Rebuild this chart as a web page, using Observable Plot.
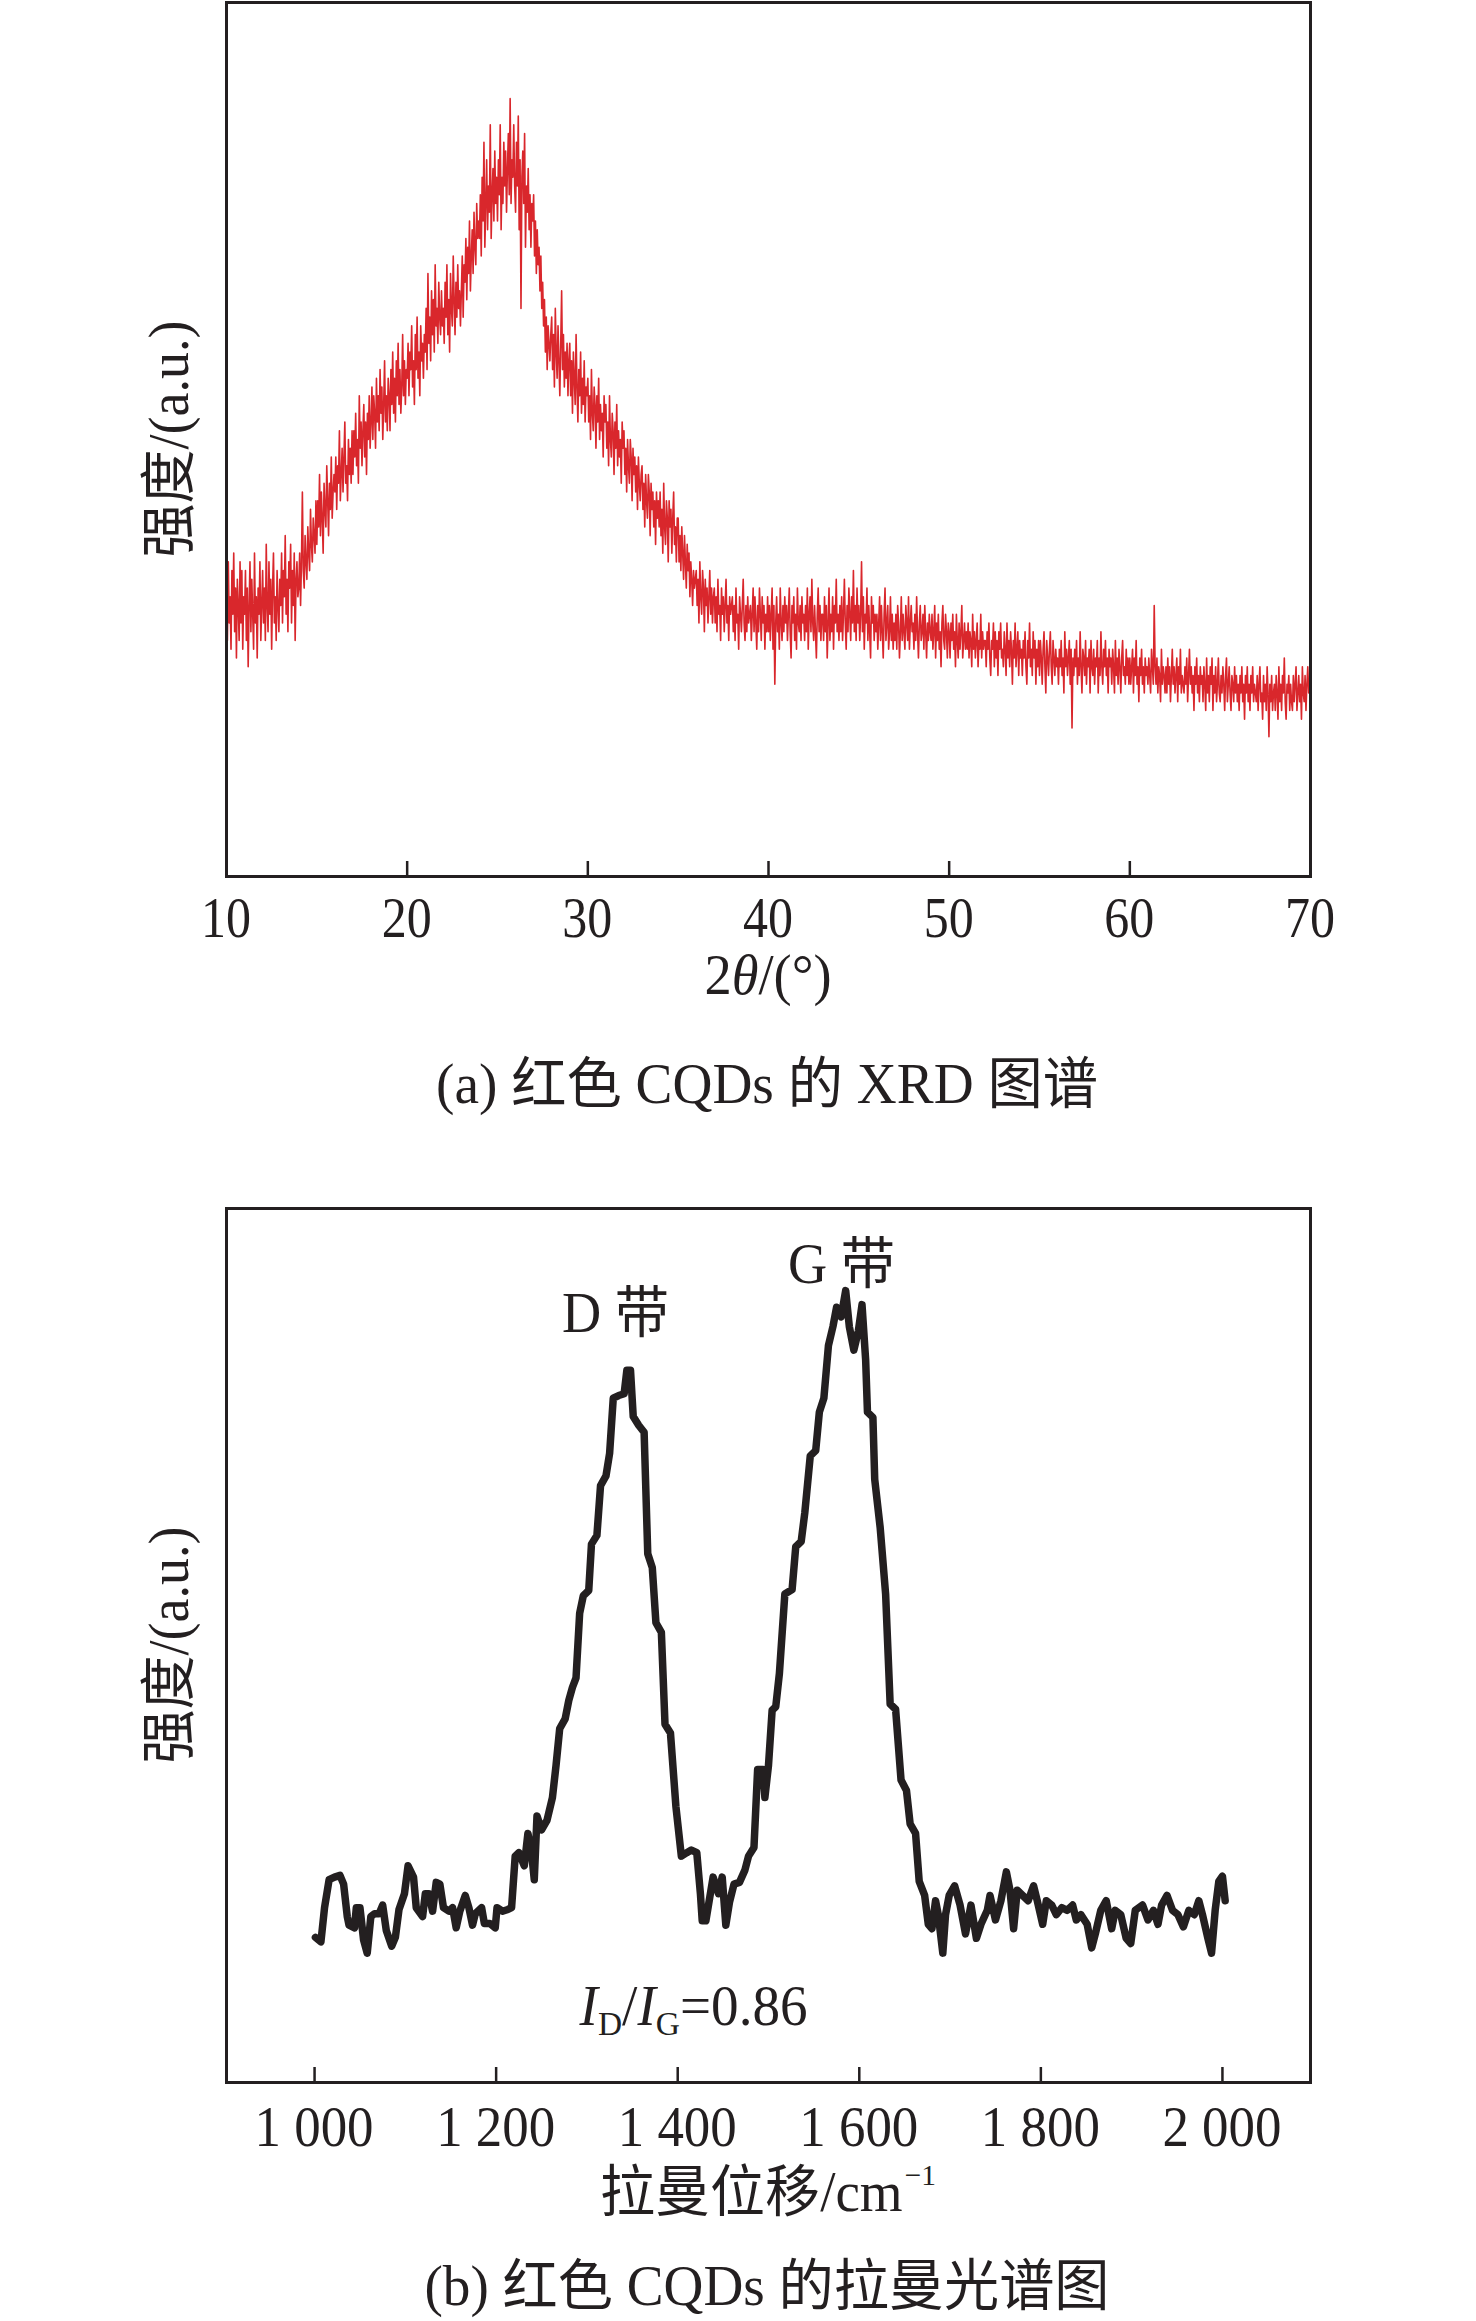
<!DOCTYPE html>
<html><head><meta charset="utf-8">
<script src="https://cdn.jsdelivr.net/npm/d3@7"></script>
<script src="https://cdn.jsdelivr.net/npm/@observablehq/plot@0.6"></script>
<style>
body{margin:0;background:#fff;}
#root{width:1476px;}
svg{display:block;}
</style></head><body><div id="root"></div>
<script>
// ---------- Data (a) XRD, 2θ from 10° to 70° in 0.05° steps ----------
const xrdStart = 10;
const xrdStep = 0.05;
const xrdIntensity = [
34,27,36,29,32,26,35,30,37,28,33,25,34,31,27,36,29,35,26,32,
30,35,27,33,24,31,36,28,34,30,26,37,29,32,25,33,30,36,27,31,
35,29,33,27,38,31,28,36,30,34,26,33,37,29,32,27,35,31,28,34,
31,37,29,35,32,39,30,34,28,36,33,38,29,35,31,37,27,34,36,32,
33,37,31,36,44,35,33,39,36,34,40,37,35,42,38,36,41,39,37,43,
38,43,40,46,39,44,41,37,45,42,40,47,43,39,45,42,48,41,44,46,
44,48,42,47,45,51,43,46,49,44,48,52,45,47,43,50,46,49,45,51,
46,51,48,53,47,50,45,55,49,52,47,51,54,48,52,46,53,50,55,49,
52,56,50,55,53,49,57,52,55,51,58,53,56,50,54,59,52,55,51,57,
55,51,58,54,60,53,57,52,59,55,61,54,58,53,56,62,55,59,54,58,
57,61,55,60,58,63,56,59,54,62,58,64,57,60,55,63,59,61,57,62,
60,65,58,69,61,64,59,67,62,66,60,70,63,65,61,68,64,62,67,63,
65,61,68,64,70,62,66,60,69,65,63,71,66,62,68,64,70,65,67,63,
67,71,64,70,68,73,66,72,69,75,67,71,74,69,76,72,70,77,73,75,
73,78,71,80,75,84,72,77,82,74,79,76,86,73,78,81,75,83,77,80,
75,82,78,86,74,80,77,84,79,83,76,81,85,78,89,77,82,80,86,79,
76,84,79,87,74,82,65,80,83,77,85,72,79,76,81,74,78,72,77,75,
78,71,75,69,74,70,72,67,71,65,68,63,66,60,64,58,63,61,59,62,
64,58,62,56,65,60,57,63,59,55,61,67,58,62,56,60,57,61,55,59,
61,55,59,53,60,57,54,62,56,52,58,55,60,53,57,54,59,52,56,55,
57,52,55,50,58,53,51,56,54,49,55,52,57,50,54,51,53,48,55,52,
54,49,52,47,55,50,48,53,51,46,52,49,54,47,51,48,50,45,52,49,
51,46,49,44,50,47,45,50,48,43,49,46,48,44,47,42,48,45,43,46,
47,42,45,40,46,43,41,46,44,39,45,42,44,40,43,38,44,41,43,40,
44,39,42,37,45,40,38,43,41,36,43,40,42,37,41,44,38,40,36,41,
41,36,39,35,40,37,34,39,36,33,38,35,37,32,36,34,31,35,33,34,
35,31,34,29,36,32,30,35,33,28,34,31,33,29,32,35,30,33,29,32,
33,29,32,28,34,30,31,27,33,30,32,28,31,34,29,31,27,32,30,31,
32,28,31,27,33,29,30,26,32,30,28,31,34,29,27,31,28,32,29,30,
31,27,30,33,28,32,29,26,31,28,33,30,27,32,29,31,26,30,28,32,
28,31,27,30,33,26,31,22,29,32,28,30,26,33,29,27,31,28,32,29,
31,27,30,33,28,25,31,29,32,27,30,26,33,29,28,31,27,32,29,30,
27,31,28,33,26,30,32,28,34,29,27,31,28,25,30,33,28,31,27,30,
30,27,32,28,31,25,29,33,27,30,28,32,26,31,29,34,28,30,27,31,
28,32,27,30,34,29,26,31,28,33,30,27,32,29,35,28,31,27,33,29,
31,27,30,36,28,32,26,30,29,33,27,31,28,25,32,29,31,27,30,28,
30,26,29,32,27,31,28,25,30,33,27,29,31,26,28,32,27,30,26,29,
27,30,26,31,29,25,28,32,27,30,28,26,31,29,27,32,26,29,31,28,
29,26,30,27,32,28,25,29,31,27,28,30,26,31,28,25,29,27,30,28,
27,30,26,28,31,25,29,27,30,26,28,24,29,31,27,26,30,28,25,29,
28,25,29,27,30,26,28,24,30,27,25,29,26,28,31,25,27,29,26,28,
26,29,25,28,27,24,30,26,28,25,27,29,24,27,26,30,25,28,26,27,
27,24,28,26,29,25,23,27,26,29,24,28,25,27,23,28,26,29,25,26,
24,28,26,23,29,25,27,24,28,26,22,27,25,29,24,26,28,23,27,25,
26,23,27,25,28,24,22,27,25,29,24,26,23,28,25,27,22,26,24,27,
23,27,25,22,26,28,24,21,27,25,23,26,28,24,22,27,25,23,26,24,
25,22,26,24,27,23,25,21,28,24,26,23,25,27,22,26,17,25,23,26,
24,27,22,25,23,28,24,21,26,25,23,27,22,25,24,26,21,27,24,23,
26,22,25,24,27,21,25,23,28,24,22,26,24,27,23,25,21,26,24,25,
22,26,24,21,27,23,25,22,26,24,21,25,27,23,24,22,26,23,25,22,
25,22,24,26,21,25,23,27,22,24,20,25,23,26,22,24,21,25,23,24,
22,25,23,21,26,24,22,31,24,22,25,21,24,23,20,26,22,24,23,21,
24,21,25,22,24,20,23,26,22,24,21,23,25,20,24,22,26,21,23,22,
21,24,22,25,20,23,26,22,24,21,23,19,24,22,25,21,23,20,24,22,
23,20,24,22,19,25,21,23,20,24,22,25,19,23,21,24,20,22,25,21,
20,23,21,24,22,19,23,25,20,22,24,21,19,23,22,20,24,21,23,20,
22,19,23,21,24,20,22,18,23,21,24,20,22,19,23,21,24,20,22,21,
20,23,19,22,24,20,21,18,23,20,22,19,24,21,16,22,20,23,19,21,
22,19,23,21,18,24,20,22,19,23,21,25,20,18,22,21,23,19,22,20,
19,23,20,22,24,19,21,23,20,22,18,24,21,20,23,19,22,24,21,22,
24
];
const xrdTicks = [10, 20, 30, 40, 50, 60, 70];

// ---------- Data (b) Raman ----------
const ramanShift = [
1001,1007,1011,1016,1022,1028,1032,1036,1038,1044,1046,1050,1054,1058,1062,1066,1071,1075,1079,1085,
1089,1093,1099,1103,1109,1112,1119,1122,1126,1130,1134,1138,1142,1148,1152,1156,1160,1166,1170,1174,
1177,1184,1187,1193,1199,1201,1207,1213,1217,1221,1225,1231,1235,1239,1242,1245,1250,1256,1262,1266,
1270,1276,1280,1284,1288,1292,1296,1302,1305,1311,1315,1321,1325,1329,1335,1341,1344,1348,1351,1357,
1363,1367,1372,1376,1382,1386,1392,1398,1404,1410,1415,1421,1425,1427,1431,1439,1445,1449,1453,1457,
1462,1468,1474,1478,1484,1488,1494,1496,1500,1504,1508,1512,1518,1526,1530,1536,1540,1546,1552,1556,
1561,1566,1571,1575,1580,1585,1589,1594,1599,1603,1607,1609,1615,1617,1623,1629,1634,1640,1646,1652,
1656,1662,1666,1672,1676,1680,1684,1687,1692,1695,1699,1705,1711,1717,1723,1729,1734,1741,1744,1750,
1756,1762,1766,1770,1774,1780,1786,1792,1796,1802,1806,1812,1817,1823,1829,1835,1839,1844,1851,1856,
1860,1866,1872,1878,1882,1888,1894,1899,1904,1912,1918,1924,1929,1933,1939,1945,1951,1957,1963,1969,
1974,1978,1984,1988,1992,1996,2000,2003
];
const ramanIntensity = [
16.6,16.1,20,23.2,23.5,23.7,22.7,19,18,17.7,20,20,16.3,14.8,19,19.3,19.3,20.3,17.4,15.6,
16.6,19.8,21.6,24.8,23.5,20,19,21.6,21.6,19.6,22.9,22.7,20,19.6,20,17.7,19.6,21.4,20,18,
19.3,20,18.2,18.2,17.7,20,19.6,19.8,20,25.9,26.3,24.8,28.5,26.3,23.2,30.5,28.9,30,32.6,36.3,
40.5,41.6,43.7,45.2,46.3,53.7,55.7,56.3,61.6,62.6,68.3,69.4,72,78.3,78.6,78.8,81.5,81.5,76.2,75.2,
74.4,60.5,58.9,52.6,51.5,41,40,31.6,25.9,26.3,26.6,26.3,21.6,18.5,18.5,23.5,21.6,23.5,18,20.6,
22.7,22.9,24.3,25.9,26.9,35.8,35.8,32.6,36.3,42.6,43,46.8,55.9,56.4,61.3,61.9,65.2,71.7,72.3,76.7,
78.3,84.3,86.5,88.7,87.6,90.6,86.5,83.8,86,89,82.7,76.7,76.1,69,63.5,55.9,43.3,42.7,34.6,33.4,
29.6,28.5,23,21.4,18.1,17.6,20.8,19.2,14.8,19.2,21.4,22.5,20.3,17,20.3,16.5,18.1,19.7,21.4,18.6,
20.8,24.1,22,17.6,22,21.4,20.8,22.5,20.8,18.1,20.8,20.3,19.2,20,19.7,20.3,18.6,19.2,18.1,15.4,
17,19.7,20.8,17.6,19.7,19.2,16.5,15.9,19.7,20.3,18.6,19.7,18.1,20.3,21.4,19.7,19.2,17.8,19.7,19.2,
20.8,19.2,16.5,14.8,19.7,23,23.6,20.8
];
const ramanTicks = [1000, 1200, 1400, 1600, 1800, 2000];
const ramanTickLabels = ["1 000", "1 200", "1 400", "1 600", "1 800", "2 000"];

// ---------- Text ----------
const yLabel = "强度/(a.u.)";
const captionA = "(a) 红色 CQDs 的 XRD 图谱";
const captionB = "(b) 红色 CQDs 的拉曼光谱图";
const xLabelB = "拉曼位移/cm";
const bandLabels = [{shift: 1332, value: 88.2, text: "D 带"}, {shift: 1581, value: 93.8, text: "G 带"}];

// ---------- Rendering ----------
const FONT = '"Liberation Serif","Times New Roman","Noto Sans CJK SC",serif';
const INK = "#231f20";
const RED = "#d9272c";
const W = 1476;

const xrdData = xrdIntensity.map((v, i) => ({a: +(xrdStart + i * xrdStep).toFixed(2), v}));
const ramanData = ramanShift.map((s, i) => ({s, v: ramanIntensity[i]}));

function addText(svg, {x, y, rotate, size = 56, width, parts}) {
  const t = d3.select(svg).append("text")
    .attr("transform", `translate(${x},${y})` + (rotate ? ` rotate(${rotate})` : ""))
    .attr("text-anchor", "middle")
    .attr("font-family", FONT)
    .attr("font-size", size)
    .attr("fill", INK);
  for (const p of parts) {
    const s = t.append("tspan").text(p.t);
    if (p.italic) s.attr("font-style", "italic");
    if (p.size) s.attr("font-size", p.size);
    if (p.dy) s.attr("dy", p.dy);
    if (p.dx) s.attr("dx", p.dx);
  }
  if (width) t.attr("textLength", width).attr("lengthAdjust", "spacingAndGlyphs");
  return t;
}

// Panel (a)
const A = {h: 1160, top: 2, bottom: 284, left: 226, right: 166};
const plotA = Plot.plot({
  width: W, height: A.h,
  marginTop: A.top, marginBottom: A.bottom, marginLeft: A.left, marginRight: A.right,
  x: {domain: [10, 70], axis: null},
  y: {domain: [0, 100], axis: null},
  marks: [
    Plot.line(xrdData, {x: "a", y: "v", stroke: RED, strokeWidth: 1.6}),
    Plot.tickX(xrdTicks.slice(1, -1), {x: d => d, insetTop: A.h - A.top - A.bottom - 15, stroke: INK, strokeWidth: 2.5}),
    Plot.frame({stroke: INK, strokeWidth: 3})
  ]
});

// Panel (b)
const B = {h: 1161, top: 48, bottom: 239, left: 226, right: 166};
const plotB = Plot.plot({
  width: W, height: B.h,
  marginTop: B.top, marginBottom: B.bottom, marginLeft: B.left, marginRight: B.right,
  x: {domain: [903, 2097], axis: null},
  y: {domain: [0, 100], axis: null},
  marks: [
    Plot.line(ramanData, {x: "s", y: "v", stroke: INK, strokeWidth: 7.5, strokeLinejoin: "round", strokeLinecap: "round"}),
    Plot.tickX(ramanTicks, {x: d => d, insetTop: B.h - B.top - B.bottom - 15, stroke: INK, strokeWidth: 2.5}),
    Plot.frame({stroke: INK, strokeWidth: 3})
  ]
});

const root = document.getElementById("root");
root.append(plotA, plotB);

// Texts panel (a)
{
  const sx = plotA.scale("x");
  const cx = A.left + (W - A.left - A.right) / 2;
  const bottom = A.h - A.bottom;
  for (const t of xrdTicks) addText(plotA, {x: sx.apply(t), y: bottom + 61, width: 50, parts: [{t: String(t)}]});
  addText(plotA, {x: cx, y: 994, width: 127, parts: [{t: "2"}, {t: "θ", italic: true}, {t: "/(°)"}]});
  addText(plotA, {x: cx - 1, y: 1103, width: 662, parts: [{t: captionA}]});
  addText(plotA, {x: 188, y: A.top + (A.h - A.top - A.bottom) / 2, rotate: -90, width: 237, parts: [{t: yLabel}]});
}
// Texts panel (b)
{
  const sx = plotB.scale("x");
  const sy = plotB.scale("y");
  const cx = B.left + (W - B.left - B.right) / 2;
  const bottom = B.h - B.bottom;
  ramanTicks.forEach((t, i) => addText(plotB, {x: sx.apply(t), y: bottom + 64, width: 119, parts: [{t: ramanTickLabels[i]}]}));
  addText(plotB, {x: cx, y: 1051, width: 336, parts: [{t: xLabelB}, {t: "−1", size: 30, dy: -26, dx: 2}]});
  addText(plotB, {x: cx - 1, y: 1145, width: 685, parts: [{t: captionB}]});
  addText(plotB, {x: 188, y: B.top + (B.h - B.top - B.bottom) / 2, rotate: -90, width: 237, parts: [{t: yLabel}]});
  for (const b of bandLabels) addText(plotB, {x: sx.apply(b.shift), y: sy.apply(b.value) + 21, width: 107, parts: [{t: b.text}]});
  addText(plotB, {x: sx.apply(1418), y: sy.apply(7.9) + 12, width: 228, parts: [
    {t: "I", italic: true}, {t: "D", size: 34, dy: 10}, {t: "/", dy: -10},
    {t: "I", italic: true}, {t: "G", size: 34, dy: 10}, {t: "=0.86", dy: -10}
  ]});
}
</script>
</body></html>
